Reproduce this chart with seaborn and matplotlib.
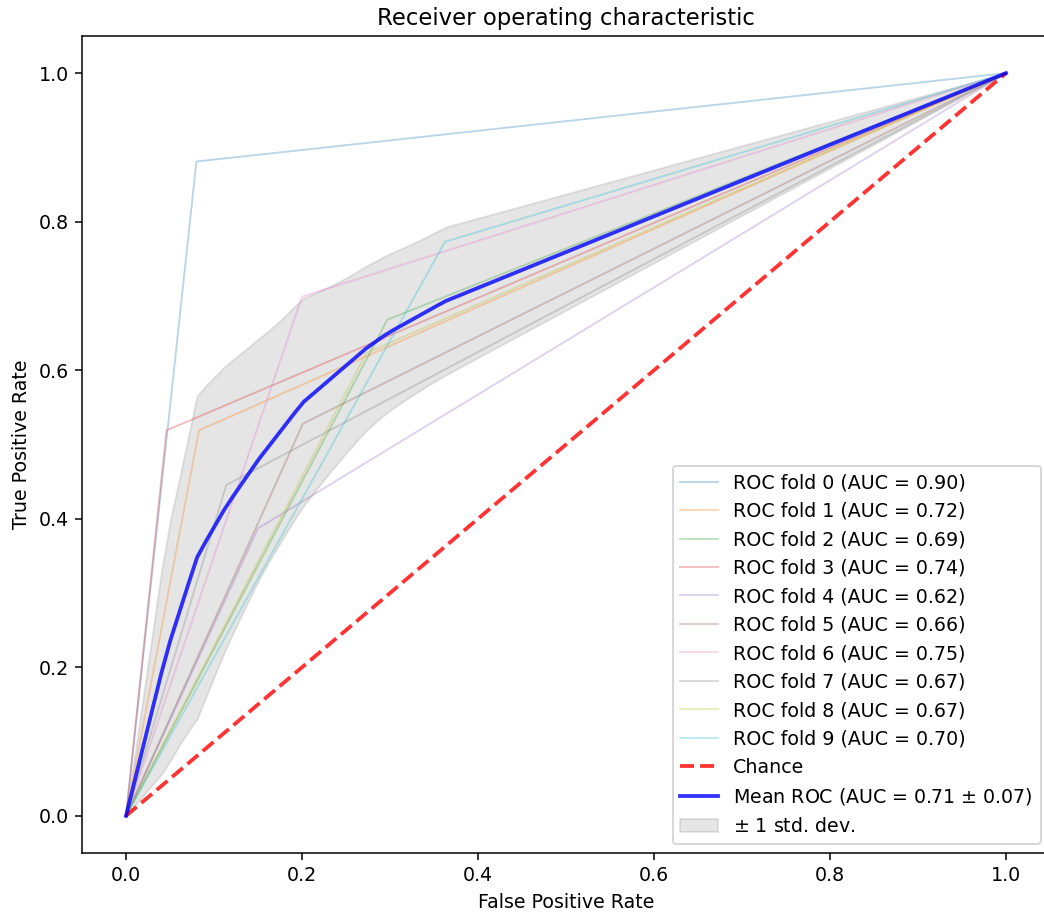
import numpy as np
import pandas as pd
import matplotlib
matplotlib.use("Agg")
import matplotlib.pyplot as plt
import seaborn as sns

# Knee points of each fold's ROC curve (curve: (0,0) -> knee -> (1,1))
fold_ids = [0, 1, 2, 3, 4, 5, 6, 7, 8, 9]
fold_fpr = [0.080, 0.083, 0.297, 0.046, 0.150, 0.201, 0.200, 0.114, 0.273, 0.3625]
fold_tpr = [0.881, 0.519, 0.668, 0.519, 0.387, 0.528, 0.699, 0.4455, 0.623, 0.773]
fold_auc_labels = ["0.90", "0.72", "0.69", "0.74", "0.62", "0.66", "0.75", "0.67", "0.67", "0.70"]
mean_auc_label = "0.71"
std_auc_label = "0.07"

plt.rcParams['font.family'] = ['DejaVu Sans']
plt.rcParams['font.size'] = 10

DPI = 136.5
fig = plt.figure(figsize=(1044 / DPI, 912 / DPI), dpi=DPI)
ax = fig.add_axes([82 / 1044, 59 / 912, 968 / 1044, 817 / 912])

palette = sns.color_palette("tab10", 10)
mean_fpr = np.linspace(0, 1, 100)
tprs = []
for i, f, t, a in zip(fold_ids, fold_fpr, fold_tpr, fold_auc_labels):
    df = pd.DataFrame({"fpr": [0.0, f, 1.0], "tpr": [0.0, t, 1.0]})
    sns.lineplot(data=df, x="fpr", y="tpr", ax=ax, color=palette[i], lw=1, alpha=0.3,
                 estimator=None, sort=False, label=f"ROC fold {i} (AUC = {a})")
    interp = np.interp(mean_fpr, df["fpr"], df["tpr"])
    interp[0] = 0.0
    tprs.append(interp)

chance = pd.DataFrame({"fpr": [0, 1], "tpr": [0, 1]})
sns.lineplot(data=chance, x="fpr", y="tpr", ax=ax, color="r", lw=2, alpha=0.8,
             linestyle="--", estimator=None, label="Chance")

tprs = np.array(tprs)
mean_tpr = tprs.mean(axis=0)
mean_tpr[-1] = 1.0
std_tpr = tprs.std(axis=0)
mean_df = pd.DataFrame({"fpr": mean_fpr, "tpr": mean_tpr})
sns.lineplot(data=mean_df, x="fpr", y="tpr", ax=ax, color="b", lw=2, alpha=0.8,
             estimator=None, sort=False,
             label=f"Mean ROC (AUC = {mean_auc_label} $\\pm$ {std_auc_label})")

upper = np.minimum(mean_tpr + std_tpr, 1)
lower = np.maximum(mean_tpr - std_tpr, 0)
ax.fill_between(mean_fpr, lower, upper, color="grey", alpha=0.2, label=r"$\pm$ 1 std. dev.")

ax.set_xlim(-0.05, 1.05)
ax.set_ylim(-0.05, 1.05)
ax.set_xlabel("False Positive Rate")
ax.set_ylabel("True Positive Rate")
ax.set_title("Receiver operating characteristic")
ax.legend(loc="lower right")

fig.savefig("out.png", dpi=DPI)
